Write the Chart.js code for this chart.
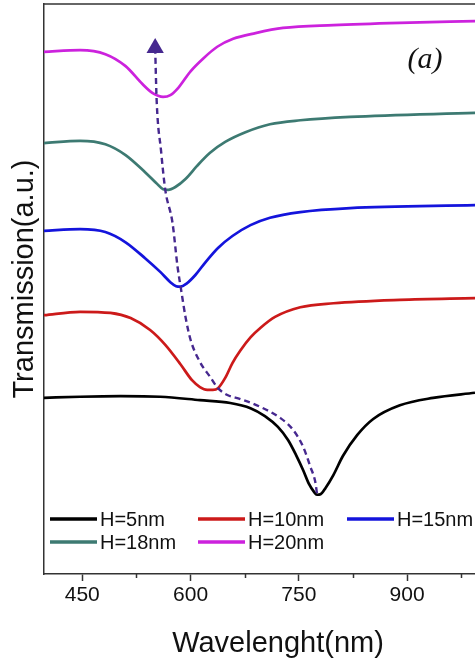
<!DOCTYPE html>
<html>
<head>
<meta charset="utf-8">
<title>Transmission spectra</title>
<script src="https://cdn.jsdelivr.net/npm/chart.js@4.4.1/dist/chart.umd.min.js"></script>
<style>
  html, body { margin: 0; padding: 0; background: #fff; overflow: hidden; }
  canvas { display: block; }
</style>
</head>
<body>
<canvas id="spectrum" width="475" height="661"></canvas>
<script>
// wavelength (nm) / transmission (a.u., curves stacked with an offset)
const wlH5 = [397, 447, 503, 558, 613, 655, 683, 703, 721, 735, 746, 756, 764, 771, 775, 780, 787, 798, 811, 831, 853, 890, 936, 994];
const tH5 = [30.9, 31.1, 31.2, 31.1, 30.5, 30.0, 29.1, 27.7, 25.8, 23.5, 20.9, 18.2, 15.8, 14.4, 13.9, 14.0, 15.1, 17.4, 20.7, 24.4, 27.2, 29.6, 30.9, 31.8];

const wlH10 = [397, 447, 489, 517, 544, 565, 586, 602, 613, 623, 631, 638, 648, 658, 669, 683, 697, 717, 752, 798, 890, 994];
const tH10 = [45.4, 46.0, 45.8, 44.9, 42.8, 40.2, 36.8, 34.0, 32.8, 32.3, 32.3, 32.6, 34.4, 37.0, 39.2, 41.5, 43.2, 45.1, 46.8, 47.5, 48.1, 48.4];

const wlH15 = [397, 447, 482, 510, 537, 558, 572, 580, 586, 594, 607, 620, 638, 658, 683, 710, 752, 821, 994];
const tH15 = [60.2, 60.5, 60.0, 58.2, 55.4, 53.0, 51.2, 50.5, 50.4, 50.9, 52.5, 54.6, 57.2, 59.3, 61.2, 62.5, 63.5, 64.2, 64.7];

const wlH18 = [397, 447, 482, 510, 537, 554, 562, 569, 579, 593, 609, 627, 648, 676, 710, 752, 821, 994];
const tH18 = [75.6, 76.0, 75.4, 73.5, 70.5, 68.4, 67.5, 67.4, 67.9, 69.3, 71.6, 73.9, 75.8, 77.5, 78.9, 79.6, 80.2, 80.9];

const wlH20 = [397, 447, 482, 510, 533, 547, 555, 562, 572, 583, 600, 618, 637, 659, 690, 728, 798, 890, 994];
const tH20 = [91.6, 91.9, 91.2, 89.1, 86.0, 84.4, 83.9, 83.7, 84.0, 85.3, 88.2, 90.5, 92.5, 93.9, 94.9, 95.8, 96.3, 96.7, 97.0];

// dip shift guide (from H=5nm dip up to the arrow head)
const wlShift = [775, 773, 766, 756, 742, 724, 697, 669, 651, 638, 627, 613, 600, 593, 587, 582, 575, 565, 559, 553, 551];
const tShift = [14.2, 16.0, 18.8, 22.3, 25.3, 27.4, 29.3, 30.7, 31.4, 32.6, 34.6, 37.2, 41.1, 45.1, 49.8, 53.9, 61.6, 67.4, 74.4, 83.2, 92.3];

const seriesLabels = ['H=5nm', 'H=10nm', 'H=15nm', 'H=18nm', 'H=20nm'];
const seriesColors = ['#000000', '#cc1a1a', '#1414dc', '#3d7a72', '#cc22dd'];
const majorTicks = [450, 600, 750, 900];
const minorTicks = [525, 675, 825, 975];

const FONT = '"Liberation Sans", Arial, sans-serif';

const toPoints = (xs, ys) => xs.map((x, i) => ({ x: x, y: ys[i] }));
const curves = [[wlH5, tH5], [wlH10, tH10], [wlH15, tH15], [wlH18, tH18], [wlH20, tH20]];

const datasets = curves.map(([xs, ys], i) => ({
    label: seriesLabels[i],
    data: toPoints(xs, ys),
    borderColor: seriesColors[i],
    borderWidth: 2.7,
    pointRadius: 0,
    cubicInterpolationMode: 'monotone'
}));

datasets.push({
    label: 'shift',
    data: toPoints(wlShift, tShift),
    borderColor: '#46288f',
    backgroundColor: '#46288f',
    borderWidth: 2.4,
    borderDash: [6, 4],
    cubicInterpolationMode: 'monotone',
    pointStyle: 'triangle',
    pointRadius: (c) => c.dataIndex === wlShift.length - 1 ? 10 : 0,
    pointBorderWidth: 0,
    order: -1
});

// axis titles, legend inside the plot, minor ticks, panel letter
const extras = {
    id: 'extras',
    afterDraw(chart) {
        const ctx = chart.ctx;
        const area = chart.chartArea;
        const xs = chart.scales.x;

        ctx.save();
        ctx.strokeStyle = '#333';
        ctx.lineWidth = 1.5;
        minorTicks.forEach(v => {
            const px = Math.round(xs.getPixelForValue(v)) + 0.5;
            ctx.beginPath();
            ctx.moveTo(px, area.bottom);
            ctx.lineTo(px, area.bottom + 4);
            ctx.stroke();
        });

        const colX = [6, 154, 303];
        const rowY = [-55, -32];
        ctx.font = '20px ' + FONT;
        ctx.textBaseline = 'middle';
        ctx.textAlign = 'left';
        seriesLabels.forEach((label, i) => {
            const x = area.left + colX[i % 3];
            const y = area.bottom + rowY[Math.floor(i / 3)];
            ctx.strokeStyle = seriesColors[i];
            ctx.lineWidth = 3.5;
            ctx.beginPath();
            ctx.moveTo(x, y);
            ctx.lineTo(x + 47, y);
            ctx.stroke();
            ctx.fillStyle = '#111';
            ctx.fillText(label, x + 50, y + 1);
        });

        ctx.textAlign = 'center';
        ctx.font = '29px ' + FONT;
        ctx.fillText('Wavelenght(nm)', 278, 644);

        ctx.save();
        ctx.translate(25, 279);
        ctx.rotate(-Math.PI / 2);
        ctx.fillText('Transmission(a.u.)', 0, 0);
        ctx.restore();

        ctx.font = 'italic 30px "Liberation Serif", "Times New Roman", serif';
        ctx.fillText('(a)', area.right - 50, area.top + 56);
        ctx.restore();
    }
};

new Chart(document.getElementById('spectrum'), {
    type: 'line',
    data: { datasets: datasets },
    options: {
        responsive: false,
        animation: false,
        devicePixelRatio: 1,
        layout: { padding: 0, autoPadding: false },
        plugins: { legend: { display: false }, tooltip: { enabled: false } },
        scales: {
            x: {
                type: 'linear',
                min: 397,
                max: 994,
                afterFit: (scale) => { scale.height = 87; },
                afterBuildTicks: (scale) => { scale.ticks = majorTicks.map(v => ({ value: v })); },
                border: { display: true, color: '#333', width: 1.5 },
                grid: { display: true, drawOnChartArea: false, tickLength: 7, tickColor: '#333', tickWidth: 1.5 },
                ticks: {
                    padding: 2,
                    color: '#111',
                    maxRotation: 0,
                    font: { family: FONT, size: 21 }
                }
            },
            x2: {
                type: 'linear',
                position: 'top',
                min: 397,
                max: 994,
                afterFit: (scale) => { scale.height = 4; },
                border: { display: true, color: '#666', width: 2 },
                grid: { display: false },
                ticks: { display: false }
            },
            y: {
                min: 0,
                max: 100,
                afterFit: (scale) => { scale.width = 44; },
                border: { display: true, color: '#333', width: 1.5 },
                grid: { display: false },
                ticks: { display: false }
            }
        }
    },
    plugins: [extras]
});
</script>
</body>
</html>
